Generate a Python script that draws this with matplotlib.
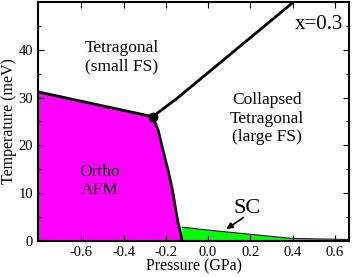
#!/usr/bin/env python3

import matplotlib
matplotlib.use('Agg')
import matplotlib.pyplot as plt
from matplotlib.ticker import MultipleLocator

plt.rcParams['font.family'] = ['Liberation Serif', 'DejaVu Serif']

# AFM / tetragonal boundary (pressure GPa, temperature meV)
afm_top_p = [-0.805, -0.262]
afm_top_t = [31.2, 26.0]
afm_side_p = [-0.262, -0.236, -0.213, -0.189, -0.168, -0.147, -0.123]
afm_side_t = [26.0, 23.1, 18.9, 14.7, 10.5, 4.9, 0.0]

# collapsed tetragonal boundary
ct_p = [-0.262, -0.148, 0.12, 0.404]
ct_t = [26.0, 29.8, 39.6, 50.0]

# superconducting dome top edge
sc_p = [-0.123, 0.008, 0.2, 0.396, 0.668]
sc_t = [2.9, 2.25, 1.4, 0.55, 0.3]

triple_p = -0.262
triple_t = 26.0

fig = plt.figure(figsize=(3.54, 2.77), dpi=100)
ax = fig.add_axes([0.107, 0.130, 0.880, 0.863])

# AFM region
poly_p = afm_top_p + afm_side_p[1:] + [-0.805]
poly_t = afm_top_t + afm_side_t[1:] + [0.0]
ax.fill(poly_p, poly_t, color='#ff00ff', lw=0, zorder=1)

# SC region
ax.fill(sc_p + [sc_p[-1], sc_p[0]], sc_t + [0.0, 0.0], color='#00ff00', lw=0, zorder=1)
ax.plot(sc_p, sc_t, color='#222222', lw=0.8, zorder=2)

ax.plot(afm_top_p, afm_top_t, color='black', lw=2, zorder=3)
ax.plot(afm_side_p, afm_side_t, color='black', lw=2, zorder=3)
ax.plot(ct_p, ct_t, color='black', lw=2, zorder=3)
ax.plot([triple_p], [triple_t], 'o', color='black', ms=6, zorder=4)

ax.text(-0.408, 38.4, 'Tetragonal\n(small FS)', ha='center', va='center', fontsize=12.5)
ax.text(0.278, 25.6, 'Collapsed\nTetragonal\n(large FS)', ha='center', va='center', fontsize=12.5)
ax.text(-0.512, 12.6, 'Ortho\nAFM', ha='center', va='center', fontsize=12.5)
ax.text(0.522, 45.2, 'x=0.3', ha='center', va='center', fontsize=15)
ax.text(0.183, 6.9, 'SC', ha='center', va='center', fontsize=16)
ax.annotate('', xy=(0.086, 2.5), xytext=(0.167, 4.9),
            arrowprops=dict(arrowstyle='-|>', color='black', lw=1.2,
                            shrinkA=0, shrinkB=0, mutation_scale=9))

ax.set_xlim(-0.805, 0.668)
ax.set_ylim(0, 50)
ax.set_xticks([-0.6, -0.4, -0.2, 0.0, 0.2, 0.4, 0.6])
ax.set_xticklabels(['-0.6', '-0.4', '-0.2', '0.0', '0.2', '0.4', '0.6'])
ax.set_yticks([0, 10, 20, 30, 40])
ax.yaxis.set_minor_locator(MultipleLocator(5))
ax.tick_params(which='both', direction='in', top=True, right=True, labelsize=10.5)
ax.tick_params(which='major', length=4)
ax.tick_params(which='minor', length=2.5)
ax.set_xlabel('Pressure (GPa)', fontsize=11.5, labelpad=0)
ax.set_ylabel('Temperature (meV)', fontsize=11.5, labelpad=1)
for s in ax.spines.values():
    s.set_linewidth(1.5)
    s.set_zorder(5)

fig.savefig('out.png', dpi=100)
